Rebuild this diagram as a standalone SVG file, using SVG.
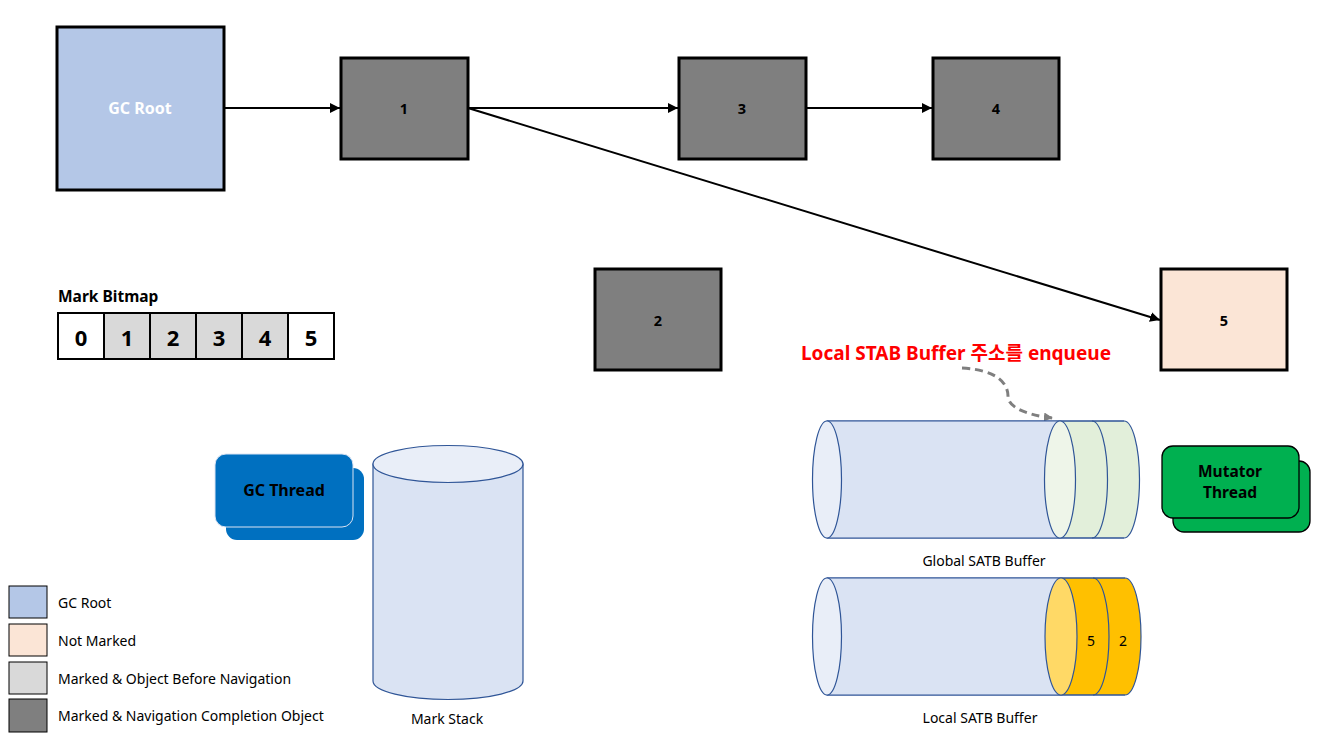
<svg xmlns="http://www.w3.org/2000/svg" width="1317" height="742" viewBox="0 0 1317 742">
<style>
text{font-family:"Noto Sans","Noto Sans CJK KR",sans-serif;}
.node{fill:#7F7F7F;stroke:#000;stroke-width:3;}
.nt{font-size:14.5px;font-weight:bold;fill:#000;text-anchor:middle;dominant-baseline:central;}
.conn{stroke:#000;stroke-width:2;fill:none;marker-end:url(#ah);}
.cell{stroke:#000;stroke-width:2;}
.bt{font-size:22px;font-weight:bold;text-anchor:middle;dominant-baseline:central;}
.lg{stroke:#000;stroke-width:1;}
.lt{font-size:14px;fill:#000;dominant-baseline:central;}
.cyl{stroke:#2F5597;stroke-width:1.2;}
.cap{font-size:14px;text-anchor:middle;dominant-baseline:central;}
</style>
<defs>
<marker id="ah" viewBox="0 0 10 10" refX="10" refY="5" markerWidth="5" markerHeight="5" orient="auto" markerUnits="strokeWidth">
<path d="M0,0 L10,5 L0,10 z" fill="#000"/>
</marker>
<marker id="ahg" viewBox="0 0 10 10" refX="9" refY="5" markerWidth="3" markerHeight="3" orient="auto" markerUnits="strokeWidth">
<path d="M0,0 L10,5 L0,10 z" fill="#7F7F7F"/>
</marker>
</defs>
<rect width="1317" height="742" fill="#fff"/>

<g id="connectors">
<line class="conn" x1="224" y1="108" x2="340" y2="108"/>
<line class="conn" x1="468" y1="108" x2="678" y2="108"/>
<line class="conn" x1="806" y1="108" x2="932" y2="108"/>
<line class="conn" x1="468" y1="108" x2="1160" y2="320"/>
<path d="M962,368 C998,370 1008,384 1008,396 C1008,408 1028,415 1052,418" fill="none" stroke="#7F7F7F" stroke-width="3" stroke-dasharray="8,5" marker-end="url(#ahg)"/>
</g>

<g id="gcroot">
<rect x="57" y="27" width="167" height="163" fill="#B4C7E7" stroke="#000" stroke-width="3"/>
<text x="140" y="108" font-size="16" font-weight="bold" fill="#fff" text-anchor="middle" dominant-baseline="central">GC Root</text>
</g>
<g id="n1"><rect class="node" x="341" y="58" width="127" height="101"/><text class="nt" x="404" y="108">1</text></g>
<g id="n3"><rect class="node" x="679" y="58" width="127" height="101"/><text class="nt" x="742" y="108">3</text></g>
<g id="n4"><rect class="node" x="933" y="58" width="126" height="101"/><text class="nt" x="996" y="108">4</text></g>
<g id="n2"><rect class="node" x="595" y="269" width="126" height="101"/><text class="nt" x="658" y="320">2</text></g>
<g id="n5"><rect x="1161" y="269" width="126" height="101" fill="#FBE5D6" stroke="#000" stroke-width="3"/><text class="nt" x="1224" y="320">5</text></g>

<g id="markbitmap">
<text x="58" y="296" font-size="15.5" font-weight="bold" dominant-baseline="central">Mark Bitmap</text>
<rect class="cell" x="58" y="313" width="46" height="46" fill="#fff"/>
<rect class="cell" x="104" y="313" width="46" height="46" fill="#D9D9D9"/>
<rect class="cell" x="150" y="313" width="46" height="46" fill="#D9D9D9"/>
<rect class="cell" x="196" y="313" width="46" height="46" fill="#D9D9D9"/>
<rect class="cell" x="242" y="313" width="46" height="46" fill="#D9D9D9"/>
<rect class="cell" x="288" y="313" width="46" height="46" fill="#fff"/>
<text class="bt" x="81" y="337">0</text>
<text class="bt" x="127" y="337">1</text>
<text class="bt" x="173" y="337">2</text>
<text class="bt" x="219" y="337">3</text>
<text class="bt" x="265" y="337">4</text>
<text class="bt" x="311" y="337">5</text>
</g>

<g id="gcthread">
<rect x="226" y="468" width="138" height="72" rx="11" fill="#0070C0"/>
<rect x="215" y="454" width="138" height="73" rx="11" fill="#0070C0" stroke="#DAE3F3" stroke-width="1"/>
<text x="284" y="490" font-size="16" font-weight="bold" text-anchor="middle" dominant-baseline="central">GC Thread</text>
</g>

<g id="markstack">
<path class="cyl" d="M373,464 L373,681 A75,18.5 0 0 0 523,681 L523,464 Z" fill="#DAE3F3"/>
<ellipse class="cyl" cx="448" cy="464" rx="75" ry="18.5" fill="#E9EEF8"/>
<text class="cap" x="447" y="718">Mark Stack</text>
</g>

<g id="legend">
<rect class="lg" x="9" y="586" width="38" height="32" fill="#B4C7E7"/>
<rect class="lg" x="9" y="624" width="38" height="32" fill="#FBE5D6"/>
<rect class="lg" x="9" y="662" width="38" height="32" fill="#D9D9D9"/>
<rect class="lg" x="9" y="699" width="38" height="33" fill="#7F7F7F"/>
<text class="lt" x="58" y="602">GC Root</text>
<text class="lt" x="58" y="640">Not Marked</text>
<text class="lt" x="58" y="678">Marked &amp; Object Before Navigation</text>
<text class="lt" x="58" y="715">Marked &amp; Navigation Completion Object</text>
</g>

<g id="enqueue-label">
<text x="956" y="353" font-size="19" font-weight="bold" fill="#FF0000" text-anchor="middle" dominant-baseline="central">Local STAB Buffer 주소를 enqueue</text>
</g>

<g id="globalsatb">
<path class="cyl" d="M827,421 L1124,421 A15.5,58.5 0 0 1 1124,538 L827,538 Z" fill="#E2EFDA"/>
<path d="M827,421 L1060,421 L1060,538 L827,538 Z" fill="#DAE3F3"/>
<line class="cyl" x1="827" y1="421" x2="1124" y2="421"/>
<line class="cyl" x1="827" y1="538" x2="1124" y2="538"/>
<path class="cyl" d="M1092,421 A15.5,58.5 0 0 1 1092,538" fill="none"/>
<ellipse class="cyl" cx="1060" cy="479.5" rx="15.5" ry="58.5" fill="#EEF5E9"/>
<ellipse class="cyl" cx="827" cy="479.5" rx="14.5" ry="58.5" fill="#E9EEF8"/>
<text class="cap" x="984" y="560">Global SATB Buffer</text>
</g>

<g id="localsatb">
<path class="cyl" d="M827,578 L1125,578 A16,58.5 0 0 1 1125,695 L827,695 Z" fill="#FFC000"/>
<path d="M827,578 L1061,578 L1061,695 L827,695 Z" fill="#DAE3F3"/>
<line class="cyl" x1="827" y1="578" x2="1125" y2="578"/>
<line class="cyl" x1="827" y1="695" x2="1125" y2="695"/>
<path class="cyl" d="M1093,578 A16,58.5 0 0 1 1093,695" fill="none"/>
<ellipse class="cyl" cx="1061" cy="636.5" rx="16" ry="58.5" fill="#FFD966"/>
<ellipse class="cyl" cx="827" cy="636.5" rx="14.5" ry="58.5" fill="#E9EEF8"/>
<text x="1091" y="640" font-size="14" text-anchor="middle" dominant-baseline="central">5</text>
<text x="1123" y="640" font-size="14" text-anchor="middle" dominant-baseline="central">2</text>
<text class="cap" x="980" y="717">Local SATB Buffer</text>
</g>

<g id="mutatorthread">
<rect x="1173" y="461" width="137" height="71" rx="11" fill="#00B050" stroke="#000" stroke-width="1.3"/>
<rect x="1162" y="446" width="137" height="72" rx="11" fill="#00B050" stroke="#000" stroke-width="1.3"/>
<text x="1230" y="471" font-size="15.5" font-weight="bold" text-anchor="middle" dominant-baseline="central">Mutator</text>
<text x="1230" y="492" font-size="15.5" font-weight="bold" text-anchor="middle" dominant-baseline="central">Thread</text>
</g>
</svg>
